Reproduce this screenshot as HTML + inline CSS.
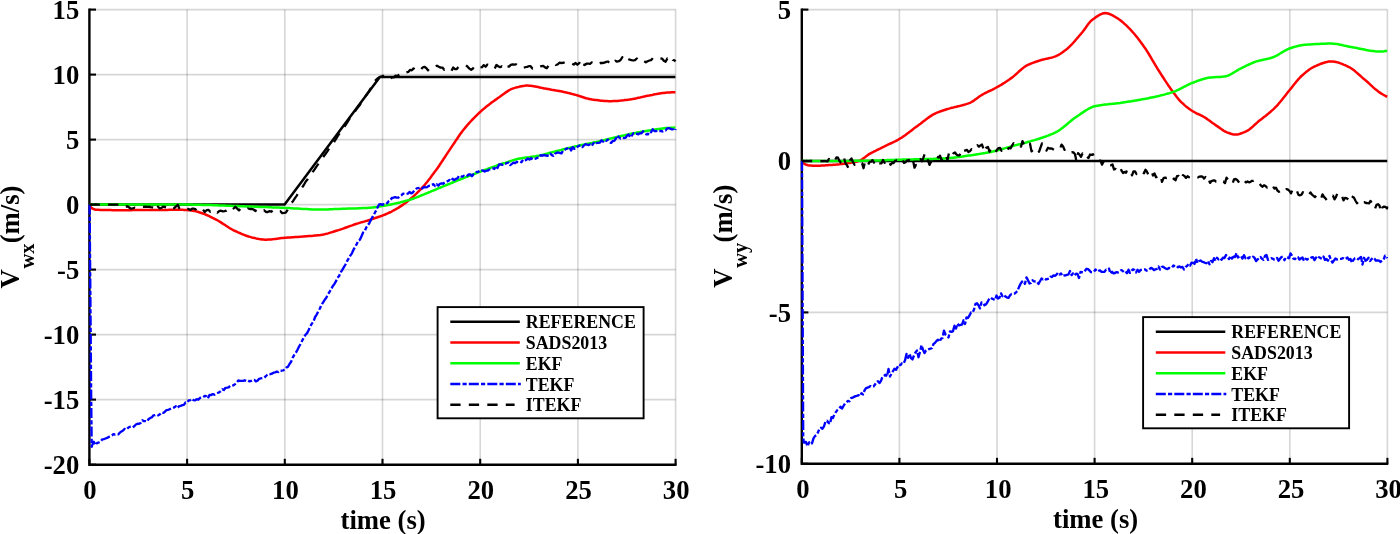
<!DOCTYPE html>
<html><head><meta charset="utf-8"><title>Wind velocity estimates</title>
<style>html,body{margin:0;padding:0;background:#fff;overflow:hidden}svg{display:block}</style></head><body>
<svg width="1400" height="534" viewBox="0 0 1400 534">
<rect width="1400" height="534" fill="#fff"/>
<g id="left">
<line x1="187.1" y1="9.6" x2="187.1" y2="464.7" stroke="#000" stroke-opacity="0.16" stroke-width="1.6"/>
<line x1="284.8" y1="9.6" x2="284.8" y2="464.7" stroke="#000" stroke-opacity="0.16" stroke-width="1.6"/>
<line x1="382.5" y1="9.6" x2="382.5" y2="464.7" stroke="#000" stroke-opacity="0.16" stroke-width="1.6"/>
<line x1="480.2" y1="9.6" x2="480.2" y2="464.7" stroke="#000" stroke-opacity="0.16" stroke-width="1.6"/>
<line x1="577.9" y1="9.6" x2="577.9" y2="464.7" stroke="#000" stroke-opacity="0.16" stroke-width="1.6"/>
<line x1="675.6" y1="9.6" x2="675.6" y2="464.7" stroke="#000" stroke-opacity="0.16" stroke-width="1.6"/>
<line x1="89.4" y1="399.6" x2="675.6" y2="399.6" stroke="#000" stroke-opacity="0.16" stroke-width="1.6"/>
<line x1="89.4" y1="334.6" x2="675.6" y2="334.6" stroke="#000" stroke-opacity="0.16" stroke-width="1.6"/>
<line x1="89.4" y1="269.6" x2="675.6" y2="269.6" stroke="#000" stroke-opacity="0.16" stroke-width="1.6"/>
<line x1="89.4" y1="204.6" x2="675.6" y2="204.6" stroke="#000" stroke-opacity="0.16" stroke-width="1.6"/>
<line x1="89.4" y1="139.6" x2="675.6" y2="139.6" stroke="#000" stroke-opacity="0.16" stroke-width="1.6"/>
<line x1="89.4" y1="74.6" x2="675.6" y2="74.6" stroke="#000" stroke-opacity="0.16" stroke-width="1.6"/>
<line x1="89.4" y1="9.6" x2="675.6" y2="9.6" stroke="#000" stroke-opacity="0.16" stroke-width="1.6"/>
<path d="M89.4,8.6 L89.4,464.7 L676.6,464.7" fill="none" stroke="#000" stroke-width="2.4" stroke-linejoin="miter"/>
<line x1="89.4" y1="464.7" x2="89.4" y2="458.8" stroke="#000" stroke-width="2.1"/>
<line x1="187.1" y1="464.7" x2="187.1" y2="458.8" stroke="#000" stroke-width="2.1"/>
<line x1="284.8" y1="464.7" x2="284.8" y2="458.8" stroke="#000" stroke-width="2.1"/>
<line x1="382.5" y1="464.7" x2="382.5" y2="458.8" stroke="#000" stroke-width="2.1"/>
<line x1="480.2" y1="464.7" x2="480.2" y2="458.8" stroke="#000" stroke-width="2.1"/>
<line x1="577.9" y1="464.7" x2="577.9" y2="458.8" stroke="#000" stroke-width="2.1"/>
<line x1="675.6" y1="464.7" x2="675.6" y2="458.8" stroke="#000" stroke-width="2.1"/>
<line x1="89.4" y1="9.6" x2="96.0" y2="9.6" stroke="#000" stroke-width="2.1"/>
<line x1="89.4" y1="74.6" x2="96.0" y2="74.6" stroke="#000" stroke-width="2.1"/>
<line x1="89.4" y1="139.6" x2="96.0" y2="139.6" stroke="#000" stroke-width="2.1"/>
<line x1="89.4" y1="204.6" x2="96.0" y2="204.6" stroke="#000" stroke-width="2.1"/>
<line x1="89.4" y1="269.6" x2="96.0" y2="269.6" stroke="#000" stroke-width="2.1"/>
<line x1="89.4" y1="334.6" x2="96.0" y2="334.6" stroke="#000" stroke-width="2.1"/>
<line x1="89.4" y1="399.6" x2="96.0" y2="399.6" stroke="#000" stroke-width="2.1"/>
<line x1="89.4" y1="464.7" x2="96.0" y2="464.7" stroke="#000" stroke-width="2.1"/>
<path d="M89.4,204.6 L284.6,204.6 L379.9,76.9 L675.4,76.9" fill="none" stroke="#000" stroke-width="2.5" stroke-linejoin="round"/>
<path d="M89.6,205.0 L91.1,207.6 L92.6,208.6 L94.1,209.3 L95.6,209.7 L97.1,209.8 L98.6,209.8 L100.1,209.9 L101.6,209.9 L103.1,210.0 L104.6,210.0 L106.1,210.1 L107.6,210.1 L109.1,210.1 L110.6,210.1 L112.1,210.2 L113.6,210.2 L115.1,210.2 L116.6,210.2 L118.1,210.2 L119.6,210.2 L121.1,210.2 L122.6,210.2 L124.1,210.2 L125.6,210.2 L127.1,210.2 L128.6,210.2 L130.1,210.2 L131.6,210.2 L133.1,210.1 L134.6,210.1 L136.1,210.1 L137.6,210.1 L139.1,210.1 L140.6,210.1 L142.1,210.1 L143.6,210.0 L145.1,210.0 L146.6,210.0 L148.1,210.0 L149.6,210.0 L151.1,210.0 L152.6,210.0 L154.1,210.0 L155.6,210.0 L157.1,209.9 L158.6,209.9 L160.1,209.9 L161.6,209.9 L163.1,209.9 L164.6,209.9 L166.1,209.9 L167.6,209.9 L169.1,209.8 L170.6,209.8 L172.1,209.8 L173.6,209.8 L175.1,209.8 L176.6,209.8 L178.1,209.8 L179.6,209.8 L181.1,209.8 L182.6,209.8 L184.1,209.9 L185.6,210.0 L187.1,210.1 L188.6,210.2 L190.1,210.3 L191.6,210.5 L193.1,210.7 L194.6,211.0 L196.1,211.4 L197.6,211.8 L199.1,212.2 L200.6,212.7 L202.1,213.2 L203.6,213.7 L205.1,214.3 L206.6,215.0 L208.1,215.7 L209.6,216.4 L211.1,217.1 L212.6,217.9 L214.1,218.6 L215.6,219.4 L217.1,220.2 L218.6,221.0 L220.1,221.9 L221.6,222.9 L223.1,223.9 L224.6,224.8 L226.1,225.8 L227.6,226.8 L229.1,227.8 L230.6,228.7 L232.1,229.5 L233.6,230.3 L235.1,231.0 L236.6,231.7 L238.1,232.4 L239.6,233.0 L241.1,233.7 L242.6,234.3 L244.1,234.9 L245.6,235.5 L247.1,236.0 L248.6,236.5 L250.1,236.9 L251.6,237.4 L253.1,237.7 L254.6,238.0 L256.1,238.4 L257.6,238.7 L259.1,239.0 L260.6,239.2 L262.1,239.5 L263.6,239.6 L265.1,239.7 L266.6,239.7 L268.1,239.6 L269.6,239.5 L271.1,239.4 L272.6,239.2 L274.1,239.1 L275.6,238.9 L277.1,238.7 L278.6,238.5 L280.1,238.3 L281.6,238.1 L283.1,237.9 L284.6,237.8 L286.1,237.7 L287.6,237.6 L289.1,237.5 L290.6,237.4 L292.1,237.3 L293.6,237.2 L295.1,237.1 L296.6,237.0 L298.1,236.9 L299.6,236.8 L301.1,236.7 L302.6,236.6 L304.1,236.5 L305.6,236.3 L307.1,236.2 L308.6,236.1 L310.1,236.0 L311.6,235.9 L313.1,235.8 L314.6,235.6 L316.1,235.5 L317.6,235.3 L319.1,235.2 L320.6,235.0 L322.1,234.7 L323.6,234.5 L325.1,234.1 L326.6,233.8 L328.1,233.4 L329.6,232.9 L331.1,232.4 L332.6,232.0 L334.1,231.5 L335.6,231.0 L337.1,230.5 L338.6,230.1 L340.1,229.6 L341.6,229.1 L343.1,228.6 L344.6,228.0 L346.1,227.5 L347.6,227.0 L349.1,226.4 L350.6,225.9 L352.1,225.4 L353.6,224.8 L355.1,224.3 L356.6,223.8 L358.1,223.4 L359.6,222.9 L361.1,222.4 L362.6,222.0 L364.1,221.6 L365.6,221.1 L367.1,220.7 L368.6,220.2 L370.1,219.8 L371.6,219.3 L373.1,218.8 L374.6,218.3 L376.1,217.8 L377.6,217.3 L379.1,216.8 L380.6,216.2 L382.1,215.7 L383.6,215.1 L385.1,214.5 L386.6,213.8 L388.1,213.2 L389.6,212.5 L391.1,211.8 L392.6,211.0 L394.1,210.2 L395.6,209.4 L397.1,208.5 L398.6,207.6 L400.1,206.6 L401.6,205.6 L403.1,204.6 L404.6,203.5 L406.1,202.4 L407.6,201.2 L409.1,200.1 L410.6,198.8 L412.1,197.6 L413.6,196.2 L415.1,194.8 L416.6,193.4 L418.1,191.9 L419.6,190.4 L421.1,188.8 L422.6,187.2 L424.1,185.6 L425.6,183.8 L427.1,182.0 L428.6,180.1 L430.1,178.2 L431.6,176.1 L433.1,174.1 L434.6,172.0 L436.1,170.0 L437.6,167.9 L439.1,165.7 L440.6,163.5 L442.1,161.3 L443.6,159.0 L445.1,156.7 L446.6,154.4 L448.1,152.1 L449.6,149.9 L451.1,147.6 L452.6,145.4 L454.1,143.2 L455.6,140.9 L457.1,138.7 L458.6,136.5 L460.1,134.3 L461.6,132.2 L463.1,130.3 L464.6,128.4 L466.1,126.6 L467.6,124.8 L469.1,123.1 L470.6,121.5 L472.1,119.9 L473.6,118.3 L475.1,116.8 L476.6,115.3 L478.1,113.9 L479.6,112.5 L481.1,111.1 L482.6,109.8 L484.1,108.6 L485.6,107.3 L487.1,106.1 L488.6,104.9 L490.1,103.8 L491.6,102.6 L493.1,101.5 L494.6,100.4 L496.1,99.4 L497.6,98.3 L499.1,97.3 L500.6,96.2 L502.1,95.1 L503.6,94.0 L505.1,92.9 L506.6,91.9 L508.1,90.9 L509.6,90.0 L511.1,89.2 L512.6,88.6 L514.1,88.1 L515.6,87.6 L517.1,87.2 L518.6,86.9 L520.1,86.5 L521.6,86.2 L523.1,85.9 L524.6,85.8 L526.1,85.6 L527.6,85.6 L529.1,85.7 L530.6,85.8 L532.1,86.0 L533.6,86.2 L535.1,86.5 L536.6,86.8 L538.1,87.1 L539.6,87.4 L541.1,87.8 L542.6,88.1 L544.1,88.4 L545.6,88.6 L547.1,88.9 L548.6,89.1 L550.1,89.4 L551.6,89.7 L553.1,89.9 L554.6,90.2 L556.1,90.5 L557.6,90.7 L559.1,91.0 L560.6,91.3 L562.1,91.6 L563.6,91.9 L565.1,92.2 L566.6,92.6 L568.1,92.9 L569.6,93.3 L571.1,93.7 L572.6,94.1 L574.1,94.5 L575.6,94.9 L577.1,95.3 L578.6,95.8 L580.1,96.2 L581.6,96.7 L583.1,97.2 L584.6,97.7 L586.1,98.2 L587.6,98.6 L589.1,98.9 L590.6,99.2 L592.1,99.5 L593.6,99.7 L595.1,99.9 L596.6,100.1 L598.1,100.3 L599.6,100.5 L601.1,100.7 L602.6,100.8 L604.1,101.0 L605.6,101.1 L607.1,101.1 L608.6,101.2 L610.1,101.2 L611.6,101.2 L613.1,101.1 L614.6,101.1 L616.1,101.0 L617.6,100.9 L619.1,100.7 L620.6,100.6 L622.1,100.4 L623.6,100.3 L625.1,100.1 L626.6,99.9 L628.1,99.7 L629.6,99.6 L631.1,99.3 L632.6,99.1 L634.1,98.8 L635.6,98.5 L637.1,98.1 L638.6,97.8 L640.1,97.5 L641.6,97.1 L643.1,96.8 L644.6,96.4 L646.1,96.1 L647.6,95.8 L649.1,95.6 L650.6,95.3 L652.1,95.0 L653.6,94.6 L655.1,94.3 L656.6,94.1 L658.1,93.8 L659.6,93.5 L661.1,93.3 L662.6,93.1 L664.1,92.9 L665.6,92.7 L667.1,92.6 L668.6,92.5 L670.1,92.4 L671.6,92.3 L673.1,92.3 L674.6,92.2 L675.4,92.2" fill="none" stroke="#f00" stroke-width="2.5" stroke-linejoin="round"/>
<path d="M89.6,204.6 L91.1,204.6 L92.6,204.6 L94.1,204.6 L95.6,204.6 L97.1,204.6 L98.6,204.6 L100.1,204.6 L101.6,204.6 L103.1,204.6 L104.6,204.6 L106.1,204.6 L107.6,204.6 L109.1,204.6 L110.6,204.6 L112.1,204.6 L113.6,204.6 L115.1,204.6 L116.6,204.6 L118.1,204.6 L119.6,204.6 L121.1,204.6 L122.6,204.6 L124.1,204.6 L125.6,204.6 L127.1,204.6 L128.6,204.6 L130.1,204.6 L131.6,204.6 L133.1,204.6 L134.6,204.6 L136.1,204.6 L137.6,204.6 L139.1,204.6 L140.6,204.6 L142.1,204.6 L143.6,204.6 L145.1,204.6 L146.6,204.6 L148.1,204.6 L149.6,204.6 L151.1,204.6 L152.6,204.6 L154.1,204.6 L155.6,204.6 L157.1,204.6 L158.6,204.6 L160.1,204.6 L161.6,204.6 L163.1,204.6 L164.6,204.6 L166.1,204.6 L167.6,204.6 L169.1,204.6 L170.6,204.6 L172.1,204.6 L173.6,204.6 L175.1,204.6 L176.6,204.6 L178.1,204.6 L179.6,204.6 L181.1,204.6 L182.6,204.6 L184.1,204.6 L185.6,204.6 L187.1,204.6 L188.6,204.6 L190.1,204.6 L191.6,204.6 L193.1,204.7 L194.6,204.7 L196.1,204.7 L197.6,204.7 L199.1,204.8 L200.6,204.8 L202.1,204.9 L203.6,204.9 L205.1,205.0 L206.6,205.0 L208.1,205.0 L209.6,205.1 L211.1,205.1 L212.6,205.2 L214.1,205.2 L215.6,205.3 L217.1,205.3 L218.6,205.4 L220.1,205.4 L221.6,205.5 L223.1,205.5 L224.6,205.6 L226.1,205.7 L227.6,205.7 L229.1,205.8 L230.6,205.8 L232.1,205.9 L233.6,205.9 L235.1,206.0 L236.6,206.1 L238.1,206.1 L239.6,206.2 L241.1,206.2 L242.6,206.3 L244.1,206.3 L245.6,206.4 L247.1,206.4 L248.6,206.5 L250.1,206.5 L251.6,206.6 L253.1,206.6 L254.6,206.7 L256.1,206.8 L257.6,206.8 L259.1,206.9 L260.6,206.9 L262.1,207.0 L263.6,207.0 L265.1,207.1 L266.6,207.1 L268.1,207.2 L269.6,207.3 L271.1,207.3 L272.6,207.4 L274.1,207.4 L275.6,207.5 L277.1,207.5 L278.6,207.6 L280.1,207.7 L281.6,207.7 L283.1,207.8 L284.6,207.9 L286.1,207.9 L287.6,208.0 L289.1,208.1 L290.6,208.2 L292.1,208.3 L293.6,208.4 L295.1,208.4 L296.6,208.5 L298.1,208.6 L299.6,208.7 L301.1,208.8 L302.6,208.9 L304.1,209.0 L305.6,209.0 L307.1,209.1 L308.6,209.2 L310.1,209.3 L311.6,209.4 L313.1,209.5 L314.6,209.6 L316.1,209.6 L317.6,209.6 L319.1,209.6 L320.6,209.6 L322.1,209.5 L323.6,209.5 L325.1,209.4 L326.6,209.4 L328.1,209.4 L329.6,209.3 L331.1,209.2 L332.6,209.2 L334.1,209.1 L335.6,209.1 L337.1,209.0 L338.6,208.9 L340.1,208.9 L341.6,208.8 L343.1,208.8 L344.6,208.7 L346.1,208.7 L347.6,208.6 L349.1,208.6 L350.6,208.5 L352.1,208.5 L353.6,208.5 L355.1,208.4 L356.6,208.4 L358.1,208.3 L359.6,208.3 L361.1,208.2 L362.6,208.1 L364.1,208.1 L365.6,208.0 L367.1,207.9 L368.6,207.8 L370.1,207.7 L371.6,207.6 L373.1,207.4 L374.6,207.2 L376.1,207.0 L377.6,206.8 L379.1,206.5 L380.6,206.3 L382.1,206.0 L383.6,205.8 L385.1,205.5 L386.6,205.3 L388.1,205.0 L389.6,204.7 L391.1,204.4 L392.6,204.1 L394.1,203.8 L395.6,203.4 L397.1,203.1 L398.6,202.7 L400.1,202.4 L401.6,202.0 L403.1,201.6 L404.6,201.2 L406.1,200.8 L407.6,200.4 L409.1,200.0 L410.6,199.5 L412.1,199.0 L413.6,198.5 L415.1,197.9 L416.6,197.4 L418.1,196.8 L419.6,196.1 L421.1,195.5 L422.6,194.9 L424.1,194.3 L425.6,193.7 L427.1,193.1 L428.6,192.5 L430.1,191.9 L431.6,191.2 L433.1,190.6 L434.6,190.0 L436.1,189.4 L437.6,188.7 L439.1,188.1 L440.6,187.5 L442.1,186.9 L443.6,186.2 L445.1,185.6 L446.6,185.0 L448.1,184.4 L449.6,183.8 L451.1,183.2 L452.6,182.5 L454.1,181.9 L455.6,181.3 L457.1,180.7 L458.6,180.1 L460.1,179.5 L461.6,178.9 L463.1,178.3 L464.6,177.7 L466.1,177.1 L467.6,176.5 L469.1,175.9 L470.6,175.3 L472.1,174.7 L473.6,174.2 L475.1,173.6 L476.6,173.0 L478.1,172.4 L479.6,171.9 L481.1,171.3 L482.6,170.7 L484.1,170.2 L485.6,169.6 L487.1,169.1 L488.6,168.5 L490.1,168.0 L491.6,167.4 L493.1,166.9 L494.6,166.4 L496.1,165.8 L497.6,165.3 L499.1,164.8 L500.6,164.3 L502.1,163.8 L503.6,163.3 L505.1,162.9 L506.6,162.4 L508.1,161.9 L509.6,161.4 L511.1,160.9 L512.6,160.4 L514.1,159.9 L515.6,159.5 L517.1,159.1 L518.6,158.8 L520.1,158.5 L521.6,158.3 L523.1,158.0 L524.6,157.8 L526.1,157.6 L527.6,157.4 L529.1,157.2 L530.6,157.0 L532.1,156.8 L533.6,156.6 L535.1,156.4 L536.6,156.1 L538.1,155.8 L539.6,155.5 L541.1,155.1 L542.6,154.7 L544.1,154.4 L545.6,154.0 L547.1,153.6 L548.6,153.2 L550.1,152.8 L551.6,152.4 L553.1,152.0 L554.6,151.6 L556.1,151.2 L557.6,150.8 L559.1,150.5 L560.6,150.1 L562.1,149.7 L563.6,149.3 L565.1,148.9 L566.6,148.5 L568.1,148.1 L569.6,147.8 L571.1,147.4 L572.6,147.0 L574.1,146.7 L575.6,146.3 L577.1,146.0 L578.6,145.6 L580.1,145.3 L581.6,145.0 L583.1,144.7 L584.6,144.4 L586.1,144.1 L587.6,143.8 L589.1,143.5 L590.6,143.2 L592.1,142.9 L593.6,142.6 L595.1,142.3 L596.6,142.0 L598.1,141.6 L599.6,141.3 L601.1,140.9 L602.6,140.5 L604.1,140.2 L605.6,139.8 L607.1,139.4 L608.6,139.0 L610.1,138.6 L611.6,138.3 L613.1,137.9 L614.6,137.5 L616.1,137.2 L617.6,136.8 L619.1,136.5 L620.6,136.1 L622.1,135.8 L623.6,135.5 L625.1,135.1 L626.6,134.8 L628.1,134.4 L629.6,134.1 L631.1,133.8 L632.6,133.5 L634.1,133.2 L635.6,132.9 L637.1,132.6 L638.6,132.3 L640.1,132.1 L641.6,131.8 L643.1,131.5 L644.6,131.3 L646.1,131.0 L647.6,130.7 L649.1,130.5 L650.6,130.3 L652.1,130.0 L653.6,129.8 L655.1,129.6 L656.6,129.3 L658.1,129.1 L659.6,128.9 L661.1,128.7 L662.6,128.5 L664.1,128.3 L665.6,128.1 L667.1,128.0 L668.6,127.9 L670.1,127.8 L671.6,127.7 L673.1,127.7 L674.6,127.6 L675.4,127.6" fill="none" stroke="#0f0" stroke-width="2.5" stroke-linejoin="round"/>
<path d="M89.6,204.6 L90.4,300.0 L91.2,400.0 L91.7,446.8 L92.6,444.0 L93.8,441.8 L95.4,445.2 L96.6,443.4 L97.5,442.8 L99.1,442.3 L100.7,441.4 L102.3,439.3 L103.9,439.1 L105.5,438.5 L107.1,437.9 L108.7,436.9 L110.3,436.4 L111.9,435.5 L113.5,434.1 L115.1,434.6 L116.7,434.3 L118.3,434.3 L119.9,432.7 L121.5,431.4 L123.1,430.4 L124.7,428.9 L126.3,429.6 L127.9,428.0 L129.5,426.9 L131.1,426.7 L132.7,427.3 L134.3,426.2 L135.9,424.5 L137.5,423.7 L139.1,423.8 L140.7,422.9 L142.3,420.3 L143.9,421.1 L145.5,421.1 L147.1,421.5 L148.7,419.0 L150.3,418.1 L151.9,417.2 L153.5,415.3 L155.1,415.2 L156.7,414.6 L158.3,415.4 L159.9,414.3 L161.5,412.5 L163.1,412.9 L164.7,411.9 L166.3,410.2 L167.9,409.8 L169.5,409.3 L171.1,408.4 L172.7,408.2 L174.3,407.4 L175.9,406.2 L177.5,408.0 L179.1,406.2 L180.7,405.8 L182.3,405.2 L183.9,404.8 L185.5,402.5 L187.1,402.6 L188.7,400.5 L190.3,400.2 L191.9,398.9 L193.5,400.1 L195.1,400.4 L196.7,399.2 L198.3,399.7 L199.9,398.0 L201.5,397.6 L203.1,397.2 L204.7,395.9 L206.3,396.2 L207.9,398.4 L209.5,394.9 L211.1,395.1 L212.7,394.1 L214.3,394.7 L215.9,393.7 L217.5,393.0 L219.1,392.3 L220.7,391.3 L222.3,389.3 L223.9,390.0 L225.5,387.8 L227.1,387.6 L228.7,387.3 L230.3,385.7 L231.9,385.3 L233.5,385.3 L235.1,384.1 L236.7,382.7 L238.3,380.5 L239.9,380.8 L241.5,380.9 L243.1,380.8 L244.7,380.3 L246.3,381.0 L247.9,380.4 L249.5,381.4 L251.1,380.9 L252.7,380.0 L254.3,379.9 L255.9,381.3 L257.5,380.7 L259.1,378.8 L260.7,378.4 L262.3,378.2 L263.9,377.9 L265.5,376.5 L267.1,375.0 L268.7,374.0 L270.3,374.2 L271.9,373.7 L273.5,372.7 L275.1,372.3 L276.7,371.7 L278.3,372.0 L279.9,370.7 L281.5,370.7 L283.1,370.4 L284.7,369.5 L286.3,367.6 L287.9,366.8 L289.5,364.0 L291.1,361.8 L292.7,357.7 L294.3,354.9 L295.9,352.6 L297.5,349.7 L299.1,346.5 L300.7,343.7 L302.3,340.4 L303.9,337.4 L305.5,334.8 L307.1,333.1 L308.7,330.0 L310.3,326.2 L311.9,323.6 L313.5,321.4 L315.1,317.0 L316.7,314.6 L318.3,311.2 L319.9,308.5 L321.5,304.7 L323.1,302.4 L324.7,299.8 L326.3,297.7 L327.9,294.2 L329.5,292.0 L331.1,289.3 L332.7,286.3 L334.3,284.1 L335.9,281.4 L337.5,277.9 L339.1,276.0 L340.7,272.3 L342.3,269.8 L343.9,267.1 L345.5,264.5 L347.1,261.1 L348.7,258.4 L350.3,255.6 L351.9,253.3 L353.5,249.7 L355.1,247.0 L356.7,244.1 L358.3,240.7 L359.9,239.8 L361.5,236.3 L363.1,232.5 L364.7,231.0 L366.3,227.4 L367.9,225.1 L369.5,222.8 L371.1,219.5 L372.7,216.6 L374.3,213.7 L375.9,210.9 L377.5,207.5 L379.1,204.5 L380.7,204.2 L382.3,204.9 L383.9,204.2 L385.5,204.5 L387.1,203.2 L388.7,201.3 L390.3,200.5 L391.9,198.0 L393.5,197.7 L395.1,197.1 L396.7,197.6 L398.3,197.7 L399.9,196.2 L401.5,195.2 L403.1,193.6 L404.7,193.9 L406.3,193.9 L407.9,193.6 L409.5,192.0 L411.1,193.4 L412.7,192.6 L414.3,190.6 L415.9,189.0 L417.5,188.1 L419.1,187.8 L420.7,187.1 L422.3,188.5 L423.9,187.0 L425.5,187.4 L427.1,187.1 L428.7,185.8 L430.3,185.7 L431.9,184.8 L433.5,184.2 L435.1,186.0 L436.7,184.3 L438.3,185.7 L439.9,183.8 L441.5,183.4 L443.1,183.7 L444.7,182.5 L446.3,182.0 L447.9,181.0 L449.5,180.0 L451.1,180.9 L452.7,178.8 L454.3,180.2 L455.9,178.8 L457.5,178.3 L459.1,175.6 L460.7,176.3 L462.3,176.7 L463.9,175.8 L465.5,176.4 L467.1,175.9 L468.7,174.5 L470.3,174.4 L471.9,176.2 L473.5,174.2 L475.1,173.3 L476.7,172.0 L478.3,171.8 L479.9,170.2 L481.5,170.3 L483.1,170.6 L484.7,171.6 L486.3,170.7 L487.9,170.5 L489.5,169.4 L491.1,169.4 L492.7,168.4 L494.3,169.0 L495.9,166.1 L497.5,168.1 L499.1,164.4 L500.7,164.4 L502.3,164.9 L503.9,163.7 L505.5,163.7 L507.1,163.0 L508.7,162.5 L510.3,165.1 L511.9,163.9 L513.5,162.6 L515.1,163.2 L516.7,161.8 L518.3,162.1 L519.9,161.5 L521.5,162.2 L523.1,159.6 L524.7,160.4 L526.3,159.9 L527.9,158.4 L529.5,159.6 L531.1,158.1 L532.7,159.6 L534.3,158.9 L535.9,158.6 L537.5,157.7 L539.1,157.8 L540.7,155.2 L542.3,155.7 L543.9,155.0 L545.5,155.4 L547.1,155.9 L548.7,155.1 L550.3,153.6 L551.9,155.2 L553.5,155.9 L555.1,153.7 L556.7,152.8 L558.3,152.5 L559.9,153.0 L561.5,153.4 L563.1,150.5 L564.7,149.8 L566.3,148.8 L567.9,148.2 L569.5,147.2 L571.1,150.4 L572.7,147.1 L574.3,148.9 L575.9,148.7 L577.5,146.7 L579.1,145.7 L580.7,145.6 L582.3,147.1 L583.9,145.4 L585.5,144.1 L587.1,144.7 L588.7,145.1 L590.3,144.2 L591.9,145.7 L593.5,143.1 L595.1,144.4 L596.7,142.9 L598.3,142.9 L599.9,142.6 L601.5,140.3 L603.1,141.6 L604.7,140.0 L606.3,140.8 L607.9,139.5 L609.5,142.0 L611.1,142.9 L612.7,141.0 L614.3,140.8 L615.9,138.5 L617.5,135.4 L619.1,137.4 L620.7,138.5 L622.3,137.9 L623.9,138.0 L625.5,137.9 L627.1,135.5 L628.7,134.6 L630.3,137.4 L631.9,135.4 L633.5,133.2 L635.1,133.9 L636.7,133.7 L638.3,134.3 L639.9,133.1 L641.5,133.4 L643.1,131.3 L644.7,133.2 L646.3,134.3 L647.9,134.3 L649.5,131.6 L651.1,132.2 L652.7,129.3 L654.3,131.0 L655.9,131.2 L657.5,130.3 L659.1,131.0 L660.7,130.9 L662.3,131.5 L663.9,130.8 L665.5,130.6 L667.1,128.4 L668.7,128.2 L670.3,128.7 L671.9,129.4 L673.5,129.3 L675.1,130.6 L675.4,128.9" fill="none" stroke="#00f" stroke-width="2.35" stroke-linejoin="round" stroke-dasharray="10 2.2 4.2 2.1"/>
<path d="M89.6,204.6 L91.4,204.5 L93.2,204.6 L95.0,204.5 L96.8,204.5 L98.6,204.6 L100.4,204.6 L102.2,204.6 L104.0,204.6 L105.8,204.6 L107.6,204.6 L109.4,204.6 L111.2,204.6 L113.0,204.7 L114.8,204.6 L116.6,204.6 L118.4,204.7 L120.2,204.8 L122.0,204.7 L123.8,204.6 L125.6,206.5 L127.4,206.3 L129.2,207.5 L131.0,208.7 L132.8,208.4 L134.6,207.7 L136.4,208.1 L138.2,207.0 L140.0,207.0 L141.8,206.6 L143.6,206.8 L145.4,206.6 L147.2,206.8 L149.0,206.8 L150.8,207.2 L152.6,207.4 L154.4,207.7 L156.2,210.7 L158.0,206.7 L159.8,208.5 L161.6,207.8 L163.4,206.6 L165.2,207.1 L167.0,207.6 L168.8,208.8 L170.6,207.3 L172.4,207.9 L174.2,208.1 L176.0,206.4 L177.8,204.8 L179.6,209.1 L181.4,208.8 L183.2,209.6 L185.0,209.5 L186.8,209.3 L188.6,209.0 L190.4,210.0 L192.2,208.6 L194.0,208.7 L195.8,209.4 L197.6,207.9 L199.4,210.1 L201.2,209.2 L203.0,209.5 L204.8,212.0 L206.6,210.2 L208.4,209.8 L210.2,211.7 L212.0,210.0 L213.8,210.0 L215.6,210.8 L217.4,212.6 L219.2,211.1 L221.0,210.7 L222.8,211.4 L224.6,211.2 L226.4,210.6 L228.2,209.1 L230.0,208.3 L231.8,206.7 L233.6,208.5 L235.4,206.8 L237.2,208.6 L239.0,210.4 L240.8,208.4 L242.6,207.9 L244.4,208.0 L246.2,209.4 L248.0,208.5 L249.8,209.0 L251.6,208.9 L253.4,209.3 L255.2,211.0 L257.0,209.7 L258.8,210.3 L260.6,210.9 L262.4,211.8 L264.2,210.3 L266.0,212.0 L267.8,212.0 L269.6,211.1 L271.4,211.8 L273.2,209.8 L275.0,209.8 L276.8,211.3 L278.6,211.2 L280.4,211.2 L282.2,213.1 L284.0,212.9 L285.8,212.6 L287.6,209.9 L289.4,206.2 L291.2,203.2 L293.0,201.2 L294.8,198.4 L296.6,195.8 L298.4,193.0 L300.2,190.2 L302.0,187.7 L303.8,185.0 L305.6,181.8 L307.4,179.6 L309.2,177.1 L311.0,175.2 L312.8,171.9 L314.6,169.4 L316.4,166.7 L318.2,164.2 L320.0,162.2 L321.8,159.5 L323.6,156.5 L325.4,154.0 L327.2,151.6 L329.0,148.6 L330.8,146.0 L332.6,144.0 L334.4,141.5 L336.2,138.6 L338.0,135.7 L339.8,133.1 L341.6,130.0 L343.4,128.0 L345.2,125.5 L347.0,122.9 L348.8,119.8 L350.6,117.2 L352.4,115.1 L354.2,112.6 L356.0,109.9 L357.8,107.6 L359.6,105.3 L361.4,102.4 L363.2,99.8 L365.0,97.1 L366.8,94.3 L368.6,91.9 L370.4,88.9 L372.2,85.9 L374.0,82.6 L375.8,80.0 L377.6,78.4 L379.4,77.2 L381.2,76.7 L383.0,75.8 L384.8,76.8 L386.6,78.5 L388.4,78.9 L390.2,79.1 L392.0,77.3 L393.8,77.4 L395.6,75.7 L397.4,76.2 L399.2,74.5 L401.0,73.1 L402.8,72.0 L404.6,72.8 L406.4,72.4 L408.2,71.9 L410.0,69.9 L411.8,70.3 L413.6,68.4 L415.4,70.9 L417.2,70.0 L419.0,70.0 L420.8,69.5 L422.6,67.5 L424.4,66.8 L426.2,68.0 L428.0,70.3 L429.8,68.2 L431.6,67.7 L433.4,68.2 L435.2,66.5 L437.0,65.7 L438.8,66.7 L440.6,67.6 L442.4,67.6 L444.2,69.7 L446.0,68.7 L447.8,68.8 L449.6,70.3 L451.4,71.0 L453.2,67.5 L455.0,69.1 L456.8,69.0 L458.6,66.7 L460.4,66.2 L462.2,65.5 L464.0,65.1 L465.8,65.2 L467.6,66.7 L469.4,68.6 L471.2,69.8 L473.0,68.5 L474.8,65.6 L476.6,66.5 L478.4,66.6 L480.2,67.4 L482.0,67.2 L483.8,65.1 L485.6,66.7 L487.4,64.6 L489.2,65.2 L491.0,66.6 L492.8,67.2 L494.6,68.9 L496.4,65.0 L498.2,66.3 L500.0,67.2 L501.8,66.4 L503.6,68.2 L505.4,65.2 L507.2,66.3 L509.0,66.6 L510.8,64.9 L512.6,64.4 L514.4,64.7 L516.2,64.3 L518.0,66.0 L519.8,65.8 L521.6,67.2 L523.4,67.9 L525.2,67.2 L527.0,66.9 L528.8,66.2 L530.6,66.2 L532.4,68.5 L534.2,67.5 L536.0,66.5 L537.8,66.9 L539.6,67.1 L541.4,66.1 L543.2,65.9 L545.0,67.4 L546.8,68.2 L548.6,65.5 L550.4,64.7 L552.2,63.9 L554.0,63.3 L555.8,65.0 L557.6,64.5 L559.4,62.7 L561.2,63.0 L563.0,62.9 L564.8,62.2 L566.6,62.2 L568.4,63.4 L570.2,62.8 L572.0,63.5 L573.8,64.5 L575.6,63.0 L577.4,64.7 L579.2,63.2 L581.0,59.6 L582.8,64.4 L584.6,65.0 L586.4,63.7 L588.2,63.7 L590.0,63.8 L591.8,62.4 L593.6,63.8 L595.4,63.0 L597.2,62.9 L599.0,63.8 L600.8,62.9 L602.6,63.0 L604.4,62.7 L606.2,61.9 L608.0,61.5 L609.8,63.4 L611.6,61.9 L613.4,63.2 L615.2,60.8 L617.0,61.6 L618.8,61.2 L620.6,60.0 L622.4,57.2 L624.2,60.8 L626.0,59.2 L627.8,58.7 L629.6,59.7 L631.4,60.1 L633.2,60.5 L635.0,60.1 L636.8,58.5 L638.6,60.6 L640.4,59.5 L642.2,60.4 L644.0,61.2 L645.8,62.3 L647.6,61.2 L649.4,60.5 L651.2,60.1 L653.0,57.9 L654.8,58.0 L656.6,57.7 L658.4,57.3 L660.2,58.5 L662.0,58.6 L663.8,60.8 L665.6,61.8 L667.4,58.4 L669.2,59.2 L671.0,56.9 L672.8,60.0 L674.6,60.4 L675.4,61.5" fill="none" stroke="#000" stroke-width="2.3" stroke-linejoin="round" stroke-dasharray="10.3 8.2"/>
<text transform="translate(90.0,498.9) scale(1,1.04)" text-anchor="middle" font-size="26.7" font-family="'Liberation Serif','Times New Roman',Times,serif" font-weight="bold">0</text>
<text transform="translate(187.7,498.9) scale(1,1.04)" text-anchor="middle" font-size="26.7" font-family="'Liberation Serif','Times New Roman',Times,serif" font-weight="bold">5</text>
<text transform="translate(285.4,498.9) scale(1,1.04)" text-anchor="middle" font-size="26.7" font-family="'Liberation Serif','Times New Roman',Times,serif" font-weight="bold">10</text>
<text transform="translate(383.1,498.9) scale(1,1.04)" text-anchor="middle" font-size="26.7" font-family="'Liberation Serif','Times New Roman',Times,serif" font-weight="bold">15</text>
<text transform="translate(480.8,498.9) scale(1,1.04)" text-anchor="middle" font-size="26.7" font-family="'Liberation Serif','Times New Roman',Times,serif" font-weight="bold">20</text>
<text transform="translate(578.5,498.9) scale(1,1.04)" text-anchor="middle" font-size="26.7" font-family="'Liberation Serif','Times New Roman',Times,serif" font-weight="bold">25</text>
<text transform="translate(676.2,498.9) scale(1,1.04)" text-anchor="middle" font-size="26.7" font-family="'Liberation Serif','Times New Roman',Times,serif" font-weight="bold">30</text>
<text transform="translate(79.3,18.9) scale(1,1.04)" text-anchor="end" font-size="26.7" font-family="'Liberation Serif','Times New Roman',Times,serif" font-weight="bold">15</text>
<text transform="translate(79.3,83.9) scale(1,1.04)" text-anchor="end" font-size="26.7" font-family="'Liberation Serif','Times New Roman',Times,serif" font-weight="bold">10</text>
<text transform="translate(79.3,148.9) scale(1,1.04)" text-anchor="end" font-size="26.7" font-family="'Liberation Serif','Times New Roman',Times,serif" font-weight="bold">5</text>
<text transform="translate(79.3,213.9) scale(1,1.04)" text-anchor="end" font-size="26.7" font-family="'Liberation Serif','Times New Roman',Times,serif" font-weight="bold">0</text>
<text transform="translate(79.3,278.9) scale(1,1.04)" text-anchor="end" font-size="26.7" font-family="'Liberation Serif','Times New Roman',Times,serif" font-weight="bold">-5</text>
<text transform="translate(79.3,343.9) scale(1,1.04)" text-anchor="end" font-size="26.7" font-family="'Liberation Serif','Times New Roman',Times,serif" font-weight="bold">-10</text>
<text transform="translate(79.3,408.9) scale(1,1.04)" text-anchor="end" font-size="26.7" font-family="'Liberation Serif','Times New Roman',Times,serif" font-weight="bold">-15</text>
<text transform="translate(79.3,474.0) scale(1,1.04)" text-anchor="end" font-size="26.7" font-family="'Liberation Serif','Times New Roman',Times,serif" font-weight="bold">-20</text>
<text transform="translate(383.1,528.9) scale(1,1.04)" text-anchor="middle" font-size="26.7" font-family="'Liberation Serif','Times New Roman',Times,serif" font-weight="bold">time (s)</text>
<g transform="translate(19.0,288.6) rotate(-90)"><text x="0" y="0" font-size="26.7" font-family="'Liberation Serif','Times New Roman',Times,serif" font-weight="bold">V</text><text x="20" y="15.0" font-size="20.4" font-family="'Liberation Serif','Times New Roman',Times,serif" font-weight="bold">wx</text><text x="45.3" y="0" font-size="26.7" font-family="'Liberation Serif','Times New Roman',Times,serif" font-weight="bold">(m/s)</text></g>
<rect x="437.6" y="307.1" width="206" height="111.2" fill="#fff" stroke="#000" stroke-width="1.9"/>
<line x1="450.3" y1="321.8" x2="519.8" y2="321.8" stroke="#000" stroke-width="2.4"/>
<text transform="translate(525.8,328.3) scale(1,1.04)" text-anchor="start" font-size="17.85" font-family="'Liberation Serif','Times New Roman',Times,serif" font-weight="bold">REFERENCE</text>
<line x1="450.3" y1="342.5" x2="519.8" y2="342.5" stroke="#f00" stroke-width="2.4"/>
<text transform="translate(525.8,349.0) scale(1,1.04)" text-anchor="start" font-size="17.85" font-family="'Liberation Serif','Times New Roman',Times,serif" font-weight="bold">SADS2013</text>
<line x1="450.3" y1="363.2" x2="519.8" y2="363.2" stroke="#0f0" stroke-width="2.4"/>
<text transform="translate(525.8,369.7) scale(1,1.04)" text-anchor="start" font-size="17.85" font-family="'Liberation Serif','Times New Roman',Times,serif" font-weight="bold">EKF</text>
<line x1="450.3" y1="384.0" x2="520.8" y2="384.0" stroke="#00f" stroke-width="2.4" stroke-dasharray="10 2.2 4.2 2.1"/>
<text transform="translate(525.8,390.5) scale(1,1.04)" text-anchor="start" font-size="17.85" font-family="'Liberation Serif','Times New Roman',Times,serif" font-weight="bold">TEKF</text>
<line x1="450.3" y1="404.7" x2="514.6" y2="404.7" stroke="#000" stroke-width="2.4" stroke-dasharray="10.3 8.2"/>
<text transform="translate(525.8,411.2) scale(1,1.04)" text-anchor="start" font-size="17.85" font-family="'Liberation Serif','Times New Roman',Times,serif" font-weight="bold">ITEKF</text>
</g>
<g id="right">
<line x1="899.4" y1="9.6" x2="899.4" y2="463.75" stroke="#000" stroke-opacity="0.16" stroke-width="1.6"/>
<line x1="997.0" y1="9.6" x2="997.0" y2="463.75" stroke="#000" stroke-opacity="0.16" stroke-width="1.6"/>
<line x1="1094.6" y1="9.6" x2="1094.6" y2="463.75" stroke="#000" stroke-opacity="0.16" stroke-width="1.6"/>
<line x1="1192.2" y1="9.6" x2="1192.2" y2="463.75" stroke="#000" stroke-opacity="0.16" stroke-width="1.6"/>
<line x1="1289.8" y1="9.6" x2="1289.8" y2="463.75" stroke="#000" stroke-opacity="0.16" stroke-width="1.6"/>
<line x1="1387.4" y1="9.6" x2="1387.4" y2="463.75" stroke="#000" stroke-opacity="0.16" stroke-width="1.6"/>
<line x1="801.8" y1="312.4" x2="1387.3" y2="312.4" stroke="#000" stroke-opacity="0.16" stroke-width="1.6"/>
<line x1="801.8" y1="161.0" x2="1387.3" y2="161.0" stroke="#000" stroke-opacity="0.16" stroke-width="1.6"/>
<line x1="801.8" y1="9.6" x2="1387.3" y2="9.6" stroke="#000" stroke-opacity="0.16" stroke-width="1.6"/>
<path d="M801.8,8.6 L801.8,463.75 L1388.3,463.75" fill="none" stroke="#000" stroke-width="2.4" stroke-linejoin="miter"/>
<line x1="801.8" y1="463.75" x2="801.8" y2="457.85" stroke="#000" stroke-width="2.1"/>
<line x1="899.4" y1="463.75" x2="899.4" y2="457.85" stroke="#000" stroke-width="2.1"/>
<line x1="997.0" y1="463.75" x2="997.0" y2="457.85" stroke="#000" stroke-width="2.1"/>
<line x1="1094.6" y1="463.75" x2="1094.6" y2="457.85" stroke="#000" stroke-width="2.1"/>
<line x1="1192.2" y1="463.75" x2="1192.2" y2="457.85" stroke="#000" stroke-width="2.1"/>
<line x1="1289.8" y1="463.75" x2="1289.8" y2="457.85" stroke="#000" stroke-width="2.1"/>
<line x1="1387.4" y1="463.75" x2="1387.4" y2="457.85" stroke="#000" stroke-width="2.1"/>
<line x1="801.8" y1="9.6" x2="808.4" y2="9.6" stroke="#000" stroke-width="2.1"/>
<line x1="801.8" y1="161.0" x2="808.4" y2="161.0" stroke="#000" stroke-width="2.1"/>
<line x1="801.8" y1="312.4" x2="808.4" y2="312.4" stroke="#000" stroke-width="2.1"/>
<line x1="801.8" y1="463.8" x2="808.4" y2="463.8" stroke="#000" stroke-width="2.1"/>
<path d="M801.8,161.0 L1387.2,161.0" fill="none" stroke="#000" stroke-width="2.5" stroke-linejoin="round"/>
<path d="M802.0,161.2 L803.5,163.1 L805.0,164.1 L806.5,164.8 L808.0,165.2 L809.5,165.4 L811.0,165.6 L812.5,165.8 L814.0,165.8 L815.5,165.8 L817.0,165.8 L818.5,165.7 L820.0,165.7 L821.5,165.6 L823.0,165.5 L824.5,165.4 L826.0,165.3 L827.5,165.2 L829.0,165.1 L830.5,165.0 L832.0,164.9 L833.5,164.8 L835.0,164.7 L836.5,164.6 L838.0,164.4 L839.5,164.3 L841.0,164.1 L842.5,163.9 L844.0,163.7 L845.5,163.5 L847.0,163.3 L848.5,163.1 L850.0,162.9 L851.5,162.6 L853.0,162.4 L854.5,162.1 L856.0,161.7 L857.5,161.3 L859.0,160.9 L860.5,160.3 L862.0,159.4 L863.5,158.3 L865.0,157.2 L866.5,156.0 L868.0,154.9 L869.5,153.9 L871.0,153.1 L872.5,152.3 L874.0,151.5 L875.5,150.8 L877.0,150.0 L878.5,149.3 L880.0,148.6 L881.5,147.8 L883.0,147.1 L884.5,146.4 L886.0,145.6 L887.5,144.9 L889.0,144.2 L890.5,143.5 L892.0,142.8 L893.5,142.1 L895.0,141.4 L896.5,140.6 L898.0,139.8 L899.5,138.9 L901.0,138.0 L902.5,137.1 L904.0,136.0 L905.5,135.0 L907.0,133.8 L908.5,132.7 L910.0,131.6 L911.5,130.4 L913.0,129.2 L914.5,128.1 L916.0,127.0 L917.5,125.9 L919.0,124.8 L920.5,123.7 L922.0,122.5 L923.5,121.3 L925.0,120.2 L926.5,119.0 L928.0,117.9 L929.5,116.9 L931.0,115.9 L932.5,114.9 L934.0,114.1 L935.5,113.4 L937.0,112.7 L938.5,112.1 L940.0,111.5 L941.5,111.0 L943.0,110.5 L944.5,110.0 L946.0,109.5 L947.5,109.0 L949.0,108.6 L950.5,108.1 L952.0,107.7 L953.5,107.4 L955.0,107.0 L956.5,106.7 L958.0,106.3 L959.5,106.0 L961.0,105.6 L962.5,105.2 L964.0,104.8 L965.5,104.4 L967.0,103.9 L968.5,103.4 L970.0,102.8 L971.5,102.0 L973.0,101.1 L974.5,100.1 L976.0,99.0 L977.5,97.9 L979.0,96.8 L980.5,95.8 L982.0,94.9 L983.5,94.0 L985.0,93.2 L986.5,92.5 L988.0,91.7 L989.5,91.0 L991.0,90.3 L992.5,89.6 L994.0,88.8 L995.5,88.0 L997.0,87.2 L998.5,86.4 L1000.0,85.5 L1001.5,84.6 L1003.0,83.6 L1004.5,82.7 L1006.0,81.7 L1007.5,80.7 L1009.0,79.7 L1010.5,78.6 L1012.0,77.6 L1013.5,76.4 L1015.0,75.1 L1016.5,73.8 L1018.0,72.4 L1019.5,71.0 L1021.0,69.7 L1022.5,68.4 L1024.0,67.3 L1025.5,66.2 L1027.0,65.4 L1028.5,64.7 L1030.0,64.0 L1031.5,63.4 L1033.0,62.8 L1034.5,62.2 L1036.0,61.7 L1037.5,61.2 L1039.0,60.7 L1040.5,60.3 L1042.0,59.8 L1043.5,59.4 L1045.0,59.1 L1046.5,58.7 L1048.0,58.4 L1049.5,58.1 L1051.0,57.8 L1052.5,57.4 L1054.0,56.9 L1055.5,56.4 L1057.0,55.7 L1058.5,54.9 L1060.0,54.0 L1061.5,53.0 L1063.0,51.9 L1064.5,50.8 L1066.0,49.7 L1067.5,48.5 L1069.0,47.1 L1070.5,45.6 L1072.0,44.1 L1073.5,42.5 L1075.0,40.8 L1076.5,39.0 L1078.0,37.3 L1079.5,35.5 L1081.0,33.8 L1082.5,32.0 L1084.0,30.0 L1085.5,27.9 L1087.0,25.8 L1088.5,23.8 L1090.0,21.9 L1091.5,20.4 L1093.0,19.3 L1094.5,18.2 L1096.0,17.1 L1097.5,16.1 L1099.0,15.2 L1100.5,14.4 L1102.0,13.8 L1103.5,13.3 L1105.0,13.1 L1106.5,13.2 L1108.0,13.5 L1109.5,14.0 L1111.0,14.6 L1112.5,15.4 L1114.0,16.2 L1115.5,17.1 L1117.0,18.0 L1118.5,18.9 L1120.0,20.0 L1121.5,21.2 L1123.0,22.4 L1124.5,23.8 L1126.0,25.2 L1127.5,26.7 L1129.0,28.2 L1130.5,29.7 L1132.0,31.3 L1133.5,33.0 L1135.0,34.8 L1136.5,36.6 L1138.0,38.5 L1139.5,40.5 L1141.0,42.5 L1142.5,44.6 L1144.0,46.7 L1145.5,48.8 L1147.0,51.1 L1148.5,53.5 L1150.0,56.0 L1151.5,58.6 L1153.0,61.1 L1154.5,63.7 L1156.0,66.2 L1157.5,68.7 L1159.0,71.0 L1160.5,73.4 L1162.0,75.7 L1163.5,78.0 L1165.0,80.4 L1166.5,82.6 L1168.0,84.9 L1169.5,87.0 L1171.0,89.2 L1172.5,91.3 L1174.0,93.3 L1175.5,95.3 L1177.0,97.3 L1178.5,99.1 L1180.0,100.8 L1181.5,102.3 L1183.0,103.7 L1184.5,105.1 L1186.0,106.4 L1187.5,107.6 L1189.0,108.7 L1190.5,109.8 L1192.0,110.8 L1193.5,111.7 L1195.0,112.5 L1196.5,113.3 L1198.0,114.0 L1199.5,114.7 L1201.0,115.4 L1202.5,116.2 L1204.0,117.0 L1205.5,117.9 L1207.0,118.9 L1208.5,120.0 L1210.0,121.1 L1211.5,122.2 L1213.0,123.3 L1214.5,124.3 L1216.0,125.4 L1217.5,126.4 L1219.0,127.4 L1220.5,128.5 L1222.0,129.6 L1223.5,130.6 L1225.0,131.5 L1226.5,132.2 L1228.0,132.8 L1229.5,133.3 L1231.0,133.8 L1232.5,134.2 L1234.0,134.5 L1235.5,134.6 L1237.0,134.5 L1238.5,134.2 L1240.0,133.8 L1241.5,133.3 L1243.0,132.7 L1244.5,132.1 L1246.0,131.4 L1247.5,130.6 L1249.0,129.7 L1250.5,128.5 L1252.0,127.3 L1253.5,125.9 L1255.0,124.5 L1256.5,123.2 L1258.0,121.8 L1259.5,120.6 L1261.0,119.4 L1262.5,118.2 L1264.0,117.0 L1265.5,115.9 L1267.0,114.7 L1268.5,113.5 L1270.0,112.2 L1271.5,110.9 L1273.0,109.6 L1274.5,108.2 L1276.0,106.7 L1277.5,105.1 L1279.0,103.3 L1280.5,101.5 L1282.0,99.7 L1283.5,97.8 L1285.0,95.9 L1286.5,94.0 L1288.0,92.1 L1289.5,90.2 L1291.0,88.4 L1292.5,86.5 L1294.0,84.6 L1295.5,82.7 L1297.0,80.8 L1298.5,79.1 L1300.0,77.5 L1301.5,76.0 L1303.0,74.7 L1304.5,73.4 L1306.0,72.1 L1307.5,70.9 L1309.0,69.8 L1310.5,68.7 L1312.0,67.8 L1313.5,67.0 L1315.0,66.3 L1316.5,65.7 L1318.0,65.0 L1319.5,64.4 L1321.0,63.7 L1322.5,63.2 L1324.0,62.7 L1325.5,62.2 L1327.0,61.9 L1328.5,61.6 L1330.0,61.4 L1331.5,61.4 L1333.0,61.5 L1334.5,61.7 L1336.0,62.0 L1337.5,62.4 L1339.0,62.8 L1340.5,63.4 L1342.0,63.9 L1343.5,64.6 L1345.0,65.2 L1346.5,65.9 L1348.0,66.6 L1349.5,67.3 L1351.0,68.2 L1352.5,69.2 L1354.0,70.3 L1355.5,71.6 L1357.0,72.9 L1358.5,74.2 L1360.0,75.5 L1361.5,76.9 L1363.0,78.2 L1364.5,79.4 L1366.0,80.7 L1367.5,82.0 L1369.0,83.4 L1370.5,84.8 L1372.0,86.2 L1373.5,87.6 L1375.0,88.9 L1376.5,90.1 L1378.0,91.3 L1379.5,92.4 L1381.0,93.4 L1382.5,94.3 L1384.0,95.2 L1385.5,96.0 L1387.0,96.7 L1387.2,96.8" fill="none" stroke="#f00" stroke-width="2.5" stroke-linejoin="round"/>
<path d="M802.0,161.0 L803.5,161.0 L805.0,161.0 L806.5,161.0 L808.0,161.0 L809.5,161.0 L811.0,161.0 L812.5,161.0 L814.0,161.0 L815.5,161.0 L817.0,161.0 L818.5,161.0 L820.0,161.0 L821.5,161.0 L823.0,161.0 L824.5,161.0 L826.0,161.0 L827.5,161.0 L829.0,161.0 L830.5,160.9 L832.0,160.9 L833.5,160.9 L835.0,160.9 L836.5,160.9 L838.0,160.9 L839.5,160.9 L841.0,160.9 L842.5,160.9 L844.0,160.9 L845.5,160.9 L847.0,160.9 L848.5,160.9 L850.0,160.9 L851.5,160.9 L853.0,160.8 L854.5,160.8 L856.0,160.8 L857.5,160.8 L859.0,160.8 L860.5,160.8 L862.0,160.8 L863.5,160.8 L865.0,160.7 L866.5,160.7 L868.0,160.7 L869.5,160.7 L871.0,160.6 L872.5,160.6 L874.0,160.5 L875.5,160.5 L877.0,160.5 L878.5,160.4 L880.0,160.4 L881.5,160.3 L883.0,160.3 L884.5,160.2 L886.0,160.2 L887.5,160.1 L889.0,160.1 L890.5,160.0 L892.0,159.9 L893.5,159.9 L895.0,159.8 L896.5,159.8 L898.0,159.8 L899.5,159.7 L901.0,159.7 L902.5,159.6 L904.0,159.6 L905.5,159.6 L907.0,159.5 L908.5,159.5 L910.0,159.4 L911.5,159.4 L913.0,159.4 L914.5,159.3 L916.0,159.3 L917.5,159.3 L919.0,159.2 L920.5,159.2 L922.0,159.2 L923.5,159.1 L925.0,159.1 L926.5,159.1 L928.0,159.0 L929.5,159.0 L931.0,158.9 L932.5,158.9 L934.0,158.8 L935.5,158.8 L937.0,158.7 L938.5,158.7 L940.0,158.6 L941.5,158.6 L943.0,158.5 L944.5,158.4 L946.0,158.3 L947.5,158.2 L949.0,158.1 L950.5,158.0 L952.0,157.8 L953.5,157.7 L955.0,157.5 L956.5,157.3 L958.0,157.1 L959.5,156.9 L961.0,156.7 L962.5,156.5 L964.0,156.2 L965.5,156.0 L967.0,155.8 L968.5,155.6 L970.0,155.4 L971.5,155.2 L973.0,155.0 L974.5,154.7 L976.0,154.5 L977.5,154.3 L979.0,154.1 L980.5,153.8 L982.0,153.6 L983.5,153.3 L985.0,153.1 L986.5,152.8 L988.0,152.5 L989.5,152.2 L991.0,151.9 L992.5,151.6 L994.0,151.2 L995.5,150.8 L997.0,150.5 L998.5,150.1 L1000.0,149.7 L1001.5,149.2 L1003.0,148.8 L1004.5,148.4 L1006.0,147.9 L1007.5,147.5 L1009.0,147.1 L1010.5,146.6 L1012.0,146.2 L1013.5,145.8 L1015.0,145.4 L1016.5,145.0 L1018.0,144.6 L1019.5,144.2 L1021.0,143.9 L1022.5,143.5 L1024.0,143.1 L1025.5,142.7 L1027.0,142.3 L1028.5,141.8 L1030.0,141.4 L1031.5,140.9 L1033.0,140.5 L1034.5,140.1 L1036.0,139.6 L1037.5,139.2 L1039.0,138.7 L1040.5,138.2 L1042.0,137.7 L1043.5,137.2 L1045.0,136.7 L1046.5,136.2 L1048.0,135.6 L1049.5,135.0 L1051.0,134.4 L1052.5,133.8 L1054.0,133.1 L1055.5,132.4 L1057.0,131.6 L1058.5,130.7 L1060.0,129.7 L1061.5,128.6 L1063.0,127.4 L1064.5,126.2 L1066.0,125.0 L1067.5,123.7 L1069.0,122.4 L1070.5,121.2 L1072.0,120.0 L1073.5,118.8 L1075.0,117.7 L1076.5,116.7 L1078.0,115.7 L1079.5,114.7 L1081.0,113.6 L1082.5,112.6 L1084.0,111.6 L1085.5,110.6 L1087.0,109.7 L1088.5,108.8 L1090.0,108.0 L1091.5,107.3 L1093.0,106.7 L1094.5,106.3 L1096.0,106.0 L1097.5,105.7 L1099.0,105.4 L1100.5,105.2 L1102.0,105.0 L1103.5,104.8 L1105.0,104.6 L1106.5,104.4 L1108.0,104.3 L1109.5,104.1 L1111.0,104.0 L1112.5,103.8 L1114.0,103.7 L1115.5,103.5 L1117.0,103.3 L1118.5,103.2 L1120.0,103.0 L1121.5,102.7 L1123.0,102.5 L1124.5,102.3 L1126.0,102.1 L1127.5,101.8 L1129.0,101.6 L1130.5,101.4 L1132.0,101.1 L1133.5,100.9 L1135.0,100.6 L1136.5,100.4 L1138.0,100.1 L1139.5,99.9 L1141.0,99.6 L1142.5,99.3 L1144.0,99.0 L1145.5,98.8 L1147.0,98.5 L1148.5,98.2 L1150.0,97.8 L1151.5,97.5 L1153.0,97.2 L1154.5,96.9 L1156.0,96.6 L1157.5,96.2 L1159.0,95.9 L1160.5,95.5 L1162.0,95.1 L1163.5,94.8 L1165.0,94.4 L1166.5,93.9 L1168.0,93.5 L1169.5,93.1 L1171.0,92.6 L1172.5,92.1 L1174.0,91.6 L1175.5,91.1 L1177.0,90.4 L1178.5,89.7 L1180.0,89.0 L1181.5,88.2 L1183.0,87.4 L1184.5,86.6 L1186.0,85.8 L1187.5,85.0 L1189.0,84.3 L1190.5,83.6 L1192.0,83.0 L1193.5,82.5 L1195.0,81.9 L1196.5,81.3 L1198.0,80.8 L1199.5,80.2 L1201.0,79.7 L1202.5,79.2 L1204.0,78.8 L1205.5,78.4 L1207.0,78.1 L1208.5,77.8 L1210.0,77.6 L1211.5,77.5 L1213.0,77.3 L1214.5,77.2 L1216.0,77.1 L1217.5,77.1 L1219.0,77.0 L1220.5,76.9 L1222.0,76.7 L1223.5,76.6 L1225.0,76.4 L1226.5,76.1 L1228.0,75.6 L1229.5,75.0 L1231.0,74.2 L1232.5,73.3 L1234.0,72.4 L1235.5,71.5 L1237.0,70.6 L1238.5,69.7 L1240.0,68.9 L1241.5,68.2 L1243.0,67.4 L1244.5,66.7 L1246.0,65.9 L1247.5,65.2 L1249.0,64.5 L1250.5,63.8 L1252.0,63.1 L1253.5,62.5 L1255.0,61.9 L1256.5,61.4 L1258.0,61.0 L1259.5,60.6 L1261.0,60.2 L1262.5,59.9 L1264.0,59.6 L1265.5,59.2 L1267.0,58.9 L1268.5,58.6 L1270.0,58.2 L1271.5,57.8 L1273.0,57.3 L1274.5,56.6 L1276.0,55.9 L1277.5,55.1 L1279.0,54.2 L1280.5,53.3 L1282.0,52.4 L1283.5,51.5 L1285.0,50.6 L1286.5,49.8 L1288.0,49.1 L1289.5,48.5 L1291.0,48.0 L1292.5,47.5 L1294.0,47.0 L1295.5,46.6 L1297.0,46.2 L1298.5,45.8 L1300.0,45.4 L1301.5,45.2 L1303.0,45.0 L1304.5,44.8 L1306.0,44.7 L1307.5,44.6 L1309.0,44.5 L1310.5,44.4 L1312.0,44.3 L1313.5,44.2 L1315.0,44.1 L1316.5,44.0 L1318.0,43.9 L1319.5,43.9 L1321.0,43.8 L1322.5,43.7 L1324.0,43.7 L1325.5,43.7 L1327.0,43.6 L1328.5,43.6 L1330.0,43.6 L1331.5,43.6 L1333.0,43.7 L1334.5,43.8 L1336.0,43.9 L1337.5,44.1 L1339.0,44.4 L1340.5,44.7 L1342.0,45.0 L1343.5,45.4 L1345.0,45.7 L1346.5,46.1 L1348.0,46.4 L1349.5,46.7 L1351.0,47.0 L1352.5,47.3 L1354.0,47.6 L1355.5,47.8 L1357.0,48.1 L1358.5,48.4 L1360.0,48.7 L1361.5,49.0 L1363.0,49.3 L1364.5,49.6 L1366.0,49.9 L1367.5,50.2 L1369.0,50.5 L1370.5,50.7 L1372.0,50.9 L1373.5,51.1 L1375.0,51.3 L1376.5,51.4 L1378.0,51.5 L1379.5,51.5 L1381.0,51.5 L1382.5,51.4 L1384.0,51.3 L1385.5,51.1 L1387.0,50.9 L1387.2,50.9" fill="none" stroke="#0f0" stroke-width="2.5" stroke-linejoin="round"/>
<path d="M802.0,161.0 L802.6,300.0 L803.2,436.0 L803.8,442.5 L804.5,442.6 L806.0,441.9 L807.5,446.3 L809.0,442.6 L810.5,441.7 L812.0,443.4 L813.5,438.4 L815.0,436.0 L816.5,435.2 L818.0,432.4 L819.5,428.5 L821.0,427.7 L822.5,428.7 L824.0,426.3 L825.5,421.4 L827.0,420.7 L828.5,422.8 L830.0,423.8 L831.5,417.1 L833.0,417.9 L834.5,414.1 L836.0,411.9 L837.5,409.9 L839.0,408.9 L840.5,406.8 L842.0,408.6 L843.5,406.0 L845.0,403.4 L846.5,402.3 L848.0,400.9 L849.5,401.3 L851.0,398.2 L852.5,397.7 L854.0,396.9 L855.5,396.1 L857.0,395.8 L858.5,395.1 L860.0,396.2 L861.5,393.2 L863.0,394.4 L864.5,390.5 L866.0,388.2 L867.5,387.6 L869.0,387.1 L870.5,386.1 L872.0,387.0 L873.5,386.5 L875.0,384.6 L876.5,382.1 L878.0,381.2 L879.5,383.0 L881.0,380.8 L882.5,376.7 L884.0,375.8 L885.5,374.8 L887.0,376.6 L888.5,368.9 L890.0,376.5 L891.5,373.7 L893.0,371.2 L894.5,368.7 L896.0,369.8 L897.5,367.2 L899.0,364.5 L900.5,365.1 L902.0,363.1 L903.5,363.5 L905.0,360.5 L906.5,354.0 L908.0,357.9 L909.5,353.8 L911.0,358.1 L912.5,359.4 L914.0,355.4 L915.5,352.4 L917.0,350.5 L918.5,357.3 L920.0,351.8 L921.5,345.2 L923.0,349.7 L924.5,353.1 L926.0,350.5 L927.5,349.9 L929.0,349.1 L930.5,348.7 L932.0,348.0 L933.5,344.0 L935.0,342.9 L936.5,340.9 L938.0,339.7 L939.5,341.8 L941.0,338.8 L942.5,337.9 L944.0,330.6 L945.5,334.5 L947.0,335.7 L948.5,337.4 L950.0,331.5 L951.5,331.9 L953.0,331.1 L954.5,325.6 L956.0,328.5 L957.5,323.6 L959.0,325.4 L960.5,324.8 L962.0,324.6 L963.5,320.3 L965.0,324.0 L966.5,317.5 L968.0,317.8 L969.5,315.5 L971.0,312.5 L972.5,312.7 L974.0,309.5 L975.5,303.9 L977.0,303.3 L978.5,305.2 L980.0,308.4 L981.5,302.4 L983.0,302.9 L984.5,305.3 L986.0,304.3 L987.5,302.0 L989.0,299.2 L990.5,297.5 L992.0,298.6 L993.5,299.3 L995.0,300.0 L996.5,295.5 L998.0,298.5 L999.5,297.7 L1001.0,293.4 L1002.5,296.3 L1004.0,295.0 L1005.5,296.6 L1007.0,297.5 L1008.5,297.8 L1010.0,295.4 L1011.5,294.0 L1013.0,294.0 L1014.5,293.6 L1016.0,292.3 L1017.5,290.9 L1019.0,287.1 L1020.5,283.9 L1022.0,281.6 L1023.5,284.4 L1025.0,283.6 L1026.5,277.4 L1028.0,280.3 L1029.5,283.5 L1031.0,282.9 L1032.5,280.3 L1034.0,281.4 L1035.5,281.5 L1037.0,281.6 L1038.5,283.9 L1040.0,281.2 L1041.5,278.5 L1043.0,279.3 L1044.5,278.4 L1046.0,279.5 L1047.5,279.0 L1049.0,278.6 L1050.5,276.7 L1052.0,277.0 L1053.5,275.4 L1055.0,275.9 L1056.5,274.6 L1058.0,272.8 L1059.5,274.6 L1061.0,273.4 L1062.5,276.1 L1064.0,275.5 L1065.5,275.4 L1067.0,274.8 L1068.5,274.4 L1070.0,271.0 L1071.5,275.1 L1073.0,273.4 L1074.5,275.4 L1076.0,273.7 L1077.5,273.9 L1079.0,278.0 L1080.5,272.0 L1082.0,272.1 L1083.5,272.4 L1085.0,270.7 L1086.5,268.8 L1088.0,269.2 L1089.5,270.5 L1091.0,272.2 L1092.5,272.3 L1094.0,271.5 L1095.5,269.5 L1097.0,271.5 L1098.5,270.9 L1100.0,270.4 L1101.5,271.8 L1103.0,271.9 L1104.5,271.8 L1106.0,269.6 L1107.5,269.8 L1109.0,268.6 L1110.5,273.5 L1112.0,271.7 L1113.5,273.4 L1115.0,273.0 L1116.5,272.1 L1118.0,272.5 L1119.5,271.8 L1121.0,270.2 L1122.5,270.7 L1124.0,272.3 L1125.5,271.5 L1127.0,273.2 L1128.5,269.7 L1130.0,272.9 L1131.5,270.7 L1133.0,269.3 L1134.5,270.1 L1136.0,272.5 L1137.5,269.7 L1139.0,271.9 L1140.5,270.0 L1142.0,269.9 L1143.5,269.3 L1145.0,269.3 L1146.5,270.7 L1148.0,270.6 L1149.5,269.2 L1151.0,267.9 L1152.5,268.6 L1154.0,270.1 L1155.5,269.3 L1157.0,268.9 L1158.5,266.4 L1160.0,269.6 L1161.5,267.1 L1163.0,266.6 L1164.5,267.7 L1166.0,268.7 L1167.5,269.0 L1169.0,267.9 L1170.5,268.1 L1172.0,267.5 L1173.5,265.4 L1175.0,266.7 L1176.5,266.1 L1178.0,267.2 L1179.5,266.4 L1181.0,267.4 L1182.5,267.0 L1184.0,269.5 L1185.5,267.0 L1187.0,266.1 L1188.5,264.3 L1190.0,265.7 L1191.5,262.7 L1193.0,262.8 L1194.5,263.9 L1196.0,258.8 L1197.5,263.1 L1199.0,261.0 L1200.5,260.5 L1202.0,261.7 L1203.5,262.1 L1205.0,262.8 L1206.5,263.2 L1208.0,260.9 L1209.5,264.4 L1211.0,260.9 L1212.5,262.2 L1214.0,258.2 L1215.5,260.9 L1217.0,257.8 L1218.5,259.4 L1220.0,258.2 L1221.5,259.8 L1223.0,257.6 L1224.5,258.0 L1226.0,255.1 L1227.5,256.9 L1229.0,259.0 L1230.5,255.8 L1232.0,258.6 L1233.5,256.7 L1235.0,257.0 L1236.5,253.2 L1238.0,257.5 L1239.5,256.1 L1241.0,256.1 L1242.5,258.6 L1244.0,255.2 L1245.5,258.2 L1247.0,256.8 L1248.5,258.4 L1250.0,257.3 L1251.5,257.8 L1253.0,256.7 L1254.5,257.7 L1256.0,261.1 L1257.5,259.4 L1259.0,258.7 L1260.5,257.1 L1262.0,258.8 L1263.5,259.8 L1265.0,255.8 L1266.5,255.0 L1268.0,259.8 L1269.5,258.8 L1271.0,258.2 L1272.5,258.6 L1274.0,259.5 L1275.5,259.4 L1277.0,257.9 L1278.5,260.7 L1280.0,258.7 L1281.5,256.9 L1283.0,256.8 L1284.5,260.2 L1286.0,257.2 L1287.5,257.5 L1289.0,258.3 L1290.5,253.4 L1292.0,255.6 L1293.5,258.7 L1295.0,259.1 L1296.5,257.5 L1298.0,257.1 L1299.5,259.6 L1301.0,258.4 L1302.5,257.6 L1304.0,260.8 L1305.5,258.7 L1307.0,259.6 L1308.5,258.8 L1310.0,258.8 L1311.5,257.4 L1313.0,257.2 L1314.5,260.1 L1316.0,257.6 L1317.5,258.9 L1319.0,257.2 L1320.5,258.1 L1322.0,258.7 L1323.5,256.6 L1325.0,259.9 L1326.5,259.0 L1328.0,260.7 L1329.5,255.9 L1331.0,260.1 L1332.5,262.6 L1334.0,260.4 L1335.5,258.5 L1337.0,259.5 L1338.5,259.4 L1340.0,258.8 L1341.5,258.8 L1343.0,258.1 L1344.5,259.3 L1346.0,258.6 L1347.5,257.6 L1349.0,259.8 L1350.5,259.0 L1352.0,262.8 L1353.5,259.8 L1355.0,258.2 L1356.5,258.0 L1358.0,259.2 L1359.5,258.1 L1361.0,256.9 L1362.5,264.6 L1364.0,257.8 L1365.5,260.8 L1367.0,259.7 L1368.5,257.7 L1370.0,261.0 L1371.5,259.3 L1373.0,257.7 L1374.5,258.7 L1376.0,260.7 L1377.5,260.5 L1379.0,260.6 L1380.5,262.0 L1382.0,260.2 L1383.5,259.9 L1385.0,255.7 L1386.5,256.9 L1387.2,258.2" fill="none" stroke="#00f" stroke-width="2.35" stroke-linejoin="round" stroke-dasharray="10 2.2 4.2 2.1"/>
<path d="M802.0,161.2 L803.5,161.0 L805.0,161.1 L806.5,160.9 L808.0,161.1 L809.5,160.9 L811.0,161.0 L812.5,161.0 L814.0,161.2 L815.5,161.1 L817.0,161.1 L818.5,161.2 L820.0,161.3 L821.5,161.1 L823.0,161.2 L824.5,161.2 L826.0,161.2 L827.5,161.3 L829.0,159.0 L830.5,160.9 L832.0,159.2 L833.5,159.0 L835.0,160.0 L836.5,157.3 L838.0,157.7 L839.5,161.1 L841.0,162.8 L842.5,163.7 L844.0,157.8 L845.5,163.2 L847.0,165.4 L848.5,168.2 L850.0,160.3 L851.5,158.5 L853.0,162.2 L854.5,164.7 L856.0,163.0 L857.5,164.4 L859.0,163.5 L860.5,163.2 L862.0,163.2 L863.5,168.2 L865.0,161.8 L866.5,165.8 L868.0,165.0 L869.5,161.9 L871.0,161.7 L872.5,160.1 L874.0,162.6 L875.5,159.5 L877.0,160.8 L878.5,163.2 L880.0,163.4 L881.5,163.4 L883.0,160.0 L884.5,162.8 L886.0,161.8 L887.5,164.2 L889.0,161.7 L890.5,164.8 L892.0,163.1 L893.5,163.2 L895.0,161.0 L896.5,160.4 L898.0,160.2 L899.5,162.7 L901.0,160.5 L902.5,160.5 L904.0,162.9 L905.5,162.2 L907.0,160.4 L908.5,161.0 L910.0,157.8 L911.5,156.7 L913.0,160.1 L914.5,167.7 L916.0,165.0 L917.5,165.9 L919.0,162.2 L920.5,159.1 L922.0,161.3 L923.5,157.4 L925.0,153.1 L926.5,158.2 L928.0,160.5 L929.5,164.9 L931.0,161.8 L932.5,160.5 L934.0,159.2 L935.5,156.0 L937.0,156.8 L938.5,157.6 L940.0,155.6 L941.5,159.9 L943.0,157.5 L944.5,157.0 L946.0,154.6 L947.5,160.2 L949.0,152.5 L950.5,152.5 L952.0,155.9 L953.5,153.3 L955.0,152.4 L956.5,154.6 L958.0,155.4 L959.5,155.3 L961.0,152.2 L962.5,154.3 L964.0,150.9 L965.5,150.4 L967.0,149.9 L968.5,152.1 L970.0,151.1 L971.5,149.2 L973.0,150.2 L974.5,147.8 L976.0,147.7 L977.5,145.2 L979.0,146.7 L980.5,145.4 L982.0,144.5 L983.5,148.9 L985.0,144.2 L986.5,147.8 L988.0,147.0 L989.5,151.7 L991.0,148.4 L992.5,149.0 L994.0,149.0 L995.5,152.2 L997.0,149.8 L998.5,148.1 L1000.0,147.9 L1001.5,150.8 L1003.0,150.7 L1004.5,149.0 L1006.0,151.3 L1007.5,149.5 L1009.0,147.8 L1010.5,148.4 L1012.0,145.7 L1013.5,143.3 L1015.0,144.7 L1016.5,146.6 L1018.0,146.8 L1019.5,145.5 L1021.0,146.6 L1022.5,141.1 L1024.0,144.8 L1025.5,143.8 L1027.0,141.9 L1028.5,144.1 L1030.0,143.6 L1031.5,151.3 L1033.0,149.9 L1034.5,150.9 L1036.0,149.0 L1037.5,148.9 L1039.0,151.8 L1040.5,147.6 L1042.0,143.4 L1043.5,148.5 L1045.0,148.5 L1046.5,150.5 L1048.0,147.8 L1049.5,148.5 L1051.0,148.3 L1052.5,148.9 L1054.0,149.8 L1055.5,150.4 L1057.0,149.6 L1058.5,149.5 L1060.0,149.1 L1061.5,144.6 L1063.0,146.2 L1064.5,149.9 L1066.0,148.6 L1067.5,149.7 L1069.0,152.1 L1070.5,152.4 L1072.0,152.2 L1073.5,152.4 L1075.0,154.3 L1076.5,161.5 L1078.0,153.2 L1079.5,154.6 L1081.0,156.9 L1082.5,153.5 L1084.0,155.2 L1085.5,153.5 L1087.0,156.8 L1088.5,158.1 L1090.0,154.5 L1091.5,154.9 L1093.0,154.3 L1094.5,157.9 L1096.0,158.1 L1097.5,158.9 L1099.0,160.4 L1100.5,160.7 L1102.0,164.7 L1103.5,161.4 L1105.0,161.7 L1106.5,160.8 L1108.0,164.2 L1109.5,165.1 L1111.0,165.3 L1112.5,164.4 L1114.0,169.5 L1115.5,168.9 L1117.0,169.9 L1118.5,167.2 L1120.0,166.7 L1121.5,170.6 L1123.0,173.0 L1124.5,172.0 L1126.0,172.7 L1127.5,169.1 L1129.0,170.4 L1130.5,171.3 L1132.0,175.3 L1133.5,171.3 L1135.0,171.4 L1136.5,174.0 L1138.0,172.1 L1139.5,173.6 L1141.0,174.0 L1142.5,172.7 L1144.0,173.2 L1145.5,169.7 L1147.0,171.7 L1148.5,175.0 L1150.0,173.5 L1151.5,171.2 L1153.0,175.5 L1154.5,173.5 L1156.0,177.3 L1157.5,176.4 L1159.0,174.5 L1160.5,175.3 L1162.0,181.9 L1163.5,178.2 L1165.0,177.7 L1166.5,178.0 L1168.0,177.6 L1169.5,176.8 L1171.0,178.5 L1172.5,180.2 L1174.0,178.5 L1175.5,180.3 L1177.0,176.2 L1178.5,175.9 L1180.0,178.3 L1181.5,179.8 L1183.0,175.1 L1184.5,176.1 L1186.0,177.9 L1187.5,176.2 L1189.0,177.2 L1190.5,176.9 L1192.0,175.8 L1193.5,176.8 L1195.0,176.6 L1196.5,177.2 L1198.0,177.4 L1199.5,176.6 L1201.0,176.3 L1202.5,176.6 L1204.0,178.5 L1205.5,177.0 L1207.0,180.7 L1208.5,178.7 L1210.0,182.9 L1211.5,181.1 L1213.0,180.5 L1214.5,180.3 L1216.0,181.7 L1217.5,181.6 L1219.0,179.9 L1220.5,181.1 L1222.0,181.8 L1223.5,181.6 L1225.0,183.1 L1226.5,177.7 L1228.0,179.7 L1229.5,179.6 L1231.0,181.2 L1232.5,183.8 L1234.0,179.3 L1235.5,179.0 L1237.0,179.8 L1238.5,181.8 L1240.0,182.5 L1241.5,179.9 L1243.0,181.7 L1244.5,180.8 L1246.0,182.4 L1247.5,181.5 L1249.0,182.3 L1250.5,181.9 L1252.0,180.8 L1253.5,180.8 L1255.0,180.1 L1256.5,182.5 L1258.0,182.3 L1259.5,183.8 L1261.0,185.6 L1262.5,186.7 L1264.0,185.2 L1265.5,186.0 L1267.0,187.5 L1268.5,186.3 L1270.0,188.6 L1271.5,188.1 L1273.0,186.4 L1274.5,188.6 L1276.0,187.8 L1277.5,190.6 L1279.0,191.8 L1280.5,191.0 L1282.0,192.8 L1283.5,190.8 L1285.0,190.4 L1286.5,189.1 L1288.0,189.6 L1289.5,191.0 L1291.0,193.4 L1292.5,189.9 L1294.0,190.3 L1295.5,193.1 L1297.0,191.2 L1298.5,194.9 L1300.0,195.3 L1301.5,194.7 L1303.0,192.2 L1304.5,194.7 L1306.0,193.5 L1307.5,193.3 L1309.0,194.3 L1310.5,192.4 L1312.0,194.7 L1313.5,195.9 L1315.0,197.1 L1316.5,195.2 L1318.0,195.0 L1319.5,197.9 L1321.0,198.6 L1322.5,194.4 L1324.0,196.9 L1325.5,198.4 L1327.0,200.4 L1328.5,198.5 L1330.0,197.3 L1331.5,196.9 L1333.0,195.7 L1334.5,199.4 L1336.0,196.9 L1337.5,192.9 L1339.0,194.8 L1340.5,196.5 L1342.0,196.1 L1343.5,200.4 L1345.0,197.9 L1346.5,198.1 L1348.0,199.2 L1349.5,200.5 L1351.0,195.4 L1352.5,196.7 L1354.0,197.8 L1355.5,200.7 L1357.0,203.3 L1358.5,201.7 L1360.0,200.1 L1361.5,202.6 L1363.0,202.4 L1364.5,202.2 L1366.0,203.0 L1367.5,203.2 L1369.0,203.3 L1370.5,200.9 L1372.0,203.3 L1373.5,203.5 L1375.0,208.8 L1376.5,204.9 L1378.0,204.2 L1379.5,205.6 L1381.0,212.3 L1382.5,207.2 L1384.0,206.6 L1385.5,206.8 L1387.0,208.5 L1387.2,206.3" fill="none" stroke="#000" stroke-width="2.3" stroke-linejoin="round" stroke-dasharray="10.3 8.2"/>
<text transform="translate(803.0,497.7) scale(1,1.04)" text-anchor="middle" font-size="26.7" font-family="'Liberation Serif','Times New Roman',Times,serif" font-weight="bold">0</text>
<text transform="translate(900.6,497.7) scale(1,1.04)" text-anchor="middle" font-size="26.7" font-family="'Liberation Serif','Times New Roman',Times,serif" font-weight="bold">5</text>
<text transform="translate(998.2,497.7) scale(1,1.04)" text-anchor="middle" font-size="26.7" font-family="'Liberation Serif','Times New Roman',Times,serif" font-weight="bold">10</text>
<text transform="translate(1095.8,497.7) scale(1,1.04)" text-anchor="middle" font-size="26.7" font-family="'Liberation Serif','Times New Roman',Times,serif" font-weight="bold">15</text>
<text transform="translate(1193.4,497.7) scale(1,1.04)" text-anchor="middle" font-size="26.7" font-family="'Liberation Serif','Times New Roman',Times,serif" font-weight="bold">20</text>
<text transform="translate(1291.0,497.7) scale(1,1.04)" text-anchor="middle" font-size="26.7" font-family="'Liberation Serif','Times New Roman',Times,serif" font-weight="bold">25</text>
<text transform="translate(1388.6,497.7) scale(1,1.04)" text-anchor="middle" font-size="26.7" font-family="'Liberation Serif','Times New Roman',Times,serif" font-weight="bold">30</text>
<text transform="translate(791.0,18.9) scale(1,1.04)" text-anchor="end" font-size="26.7" font-family="'Liberation Serif','Times New Roman',Times,serif" font-weight="bold">5</text>
<text transform="translate(791.0,170.3) scale(1,1.04)" text-anchor="end" font-size="26.7" font-family="'Liberation Serif','Times New Roman',Times,serif" font-weight="bold">0</text>
<text transform="translate(791.0,321.7) scale(1,1.04)" text-anchor="end" font-size="26.7" font-family="'Liberation Serif','Times New Roman',Times,serif" font-weight="bold">-5</text>
<text transform="translate(791.0,473.1) scale(1,1.04)" text-anchor="end" font-size="26.7" font-family="'Liberation Serif','Times New Roman',Times,serif" font-weight="bold">-10</text>
<text transform="translate(1095.6,528.2) scale(1,1.04)" text-anchor="middle" font-size="26.7" font-family="'Liberation Serif','Times New Roman',Times,serif" font-weight="bold">time (s)</text>
<g transform="translate(731.5,287.8) rotate(-90)"><text x="0" y="0" font-size="26.7" font-family="'Liberation Serif','Times New Roman',Times,serif" font-weight="bold">V</text><text x="20" y="15.2" font-size="20.4" font-family="'Liberation Serif','Times New Roman',Times,serif" font-weight="bold">wy</text><text x="45.3" y="0" font-size="26.7" font-family="'Liberation Serif','Times New Roman',Times,serif" font-weight="bold">(m/s)</text></g>
<rect x="1143.1" y="317.1" width="206" height="111.2" fill="#fff" stroke="#000" stroke-width="1.9"/>
<line x1="1155.8" y1="331.8" x2="1225.3" y2="331.8" stroke="#000" stroke-width="2.4"/>
<text transform="translate(1231.3,338.3) scale(1,1.04)" text-anchor="start" font-size="17.85" font-family="'Liberation Serif','Times New Roman',Times,serif" font-weight="bold">REFERENCE</text>
<line x1="1155.8" y1="352.5" x2="1225.3" y2="352.5" stroke="#f00" stroke-width="2.4"/>
<text transform="translate(1231.3,359.0) scale(1,1.04)" text-anchor="start" font-size="17.85" font-family="'Liberation Serif','Times New Roman',Times,serif" font-weight="bold">SADS2013</text>
<line x1="1155.8" y1="373.2" x2="1225.3" y2="373.2" stroke="#0f0" stroke-width="2.4"/>
<text transform="translate(1231.3,379.7) scale(1,1.04)" text-anchor="start" font-size="17.85" font-family="'Liberation Serif','Times New Roman',Times,serif" font-weight="bold">EKF</text>
<line x1="1155.8" y1="394.0" x2="1226.3" y2="394.0" stroke="#00f" stroke-width="2.4" stroke-dasharray="10 2.2 4.2 2.1"/>
<text transform="translate(1231.3,400.5) scale(1,1.04)" text-anchor="start" font-size="17.85" font-family="'Liberation Serif','Times New Roman',Times,serif" font-weight="bold">TEKF</text>
<line x1="1155.8" y1="414.7" x2="1220.1" y2="414.7" stroke="#000" stroke-width="2.4" stroke-dasharray="10.3 8.2"/>
<text transform="translate(1231.3,421.2) scale(1,1.04)" text-anchor="start" font-size="17.85" font-family="'Liberation Serif','Times New Roman',Times,serif" font-weight="bold">ITEKF</text>
</g>
</svg></body></html>
